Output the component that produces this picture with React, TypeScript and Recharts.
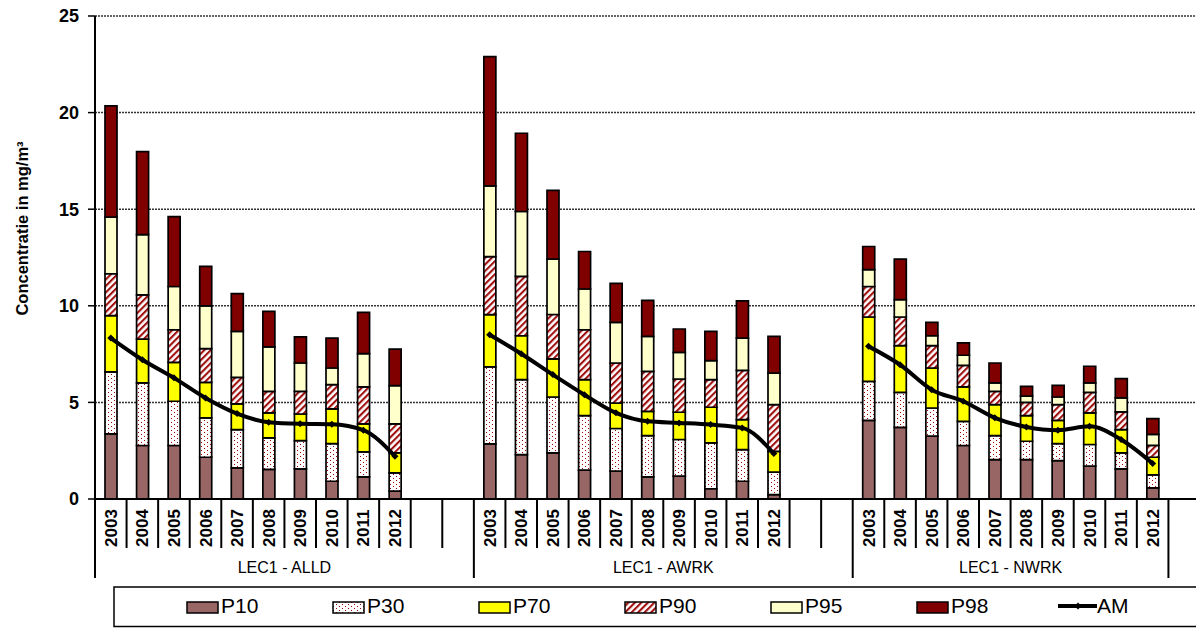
import React from 'react';
import { ComposedChart, Bar, Line, XAxis, YAxis, CartesianGrid } from 'recharts';

const FONT = '"Liberation Sans", Arial, sans-serif';

const years = ['2003', '2004', '2005', '2006', '2007', '2008', '2009', '2010', '2011', '2012'];
const groups = ['LEC1 - ALLD', 'LEC1 - AWRK', 'LEC1 - NWRK'];

// percentiles per year, groups in order ALLD, AWRK, NWRK
const p10 = [
  3.37, 2.77, 2.77, 2.16, 1.61, 1.53, 1.56, 0.92, 1.15, 0.41,
  2.85, 2.3, 2.39, 1.49, 1.44, 1.15, 1.18, 0.53, 0.92, 0.23,
  4.07, 3.71, 3.25, 2.77, 2.04, 2.04, 1.99, 1.7, 1.56, 0.58,
];
const p30 = [
  6.58, 6.01, 5.06, 4.2, 3.59, 3.16, 3.02, 2.87, 2.44, 1.35,
  6.84, 6.18, 5.28, 4.32, 3.65, 3.28, 3.08, 2.9, 2.56, 1.39,
  6.09, 5.52, 4.71, 4.02, 3.28, 2.99, 2.87, 2.82, 2.39, 1.25,
];
const p70 = [
  9.49, 8.28, 7.07, 6.04, 4.92, 4.46, 4.4, 4.66, 3.89, 2.39,
  9.54, 8.45, 7.25, 6.18, 4.97, 4.54, 4.49, 4.75, 4.11, 2.47,
  9.42, 7.94, 6.78, 5.8, 4.89, 4.32, 4.07, 4.46, 3.59, 2.16,
];
const p90 = [
  11.66, 10.57, 8.76, 7.78, 6.3, 5.57, 5.57, 5.92, 5.8, 3.89,
  12.55, 11.52, 9.55, 8.76, 7.04, 6.61, 6.21, 6.18, 6.66, 4.89,
  11.0, 9.42, 7.94, 6.92, 5.57, 5.0, 4.89, 5.52, 4.51, 2.78,
];
const p95 = [
  14.59, 13.68, 11.0, 10.0, 8.68, 7.87, 7.04, 6.78, 7.52, 5.87,
  16.21, 14.88, 12.42, 10.87, 9.14, 8.42, 7.59, 7.16, 8.33, 6.52,
  11.87, 10.32, 8.45, 7.44, 6.01, 5.32, 5.28, 6.01, 5.23, 3.34,
];
const p98 = [
  20.35, 17.98, 14.62, 12.04, 10.63, 9.71, 8.39, 8.33, 9.66, 7.76,
  22.9, 18.93, 15.97, 12.81, 11.16, 10.28, 8.8, 8.68, 10.26, 8.42,
  13.07, 12.42, 9.14, 8.08, 7.04, 5.83, 5.88, 6.87, 6.23, 4.16,
];
const am = [
  8.33, 7.21, 6.27, 5.23, 4.42, 3.97, 3.89, 3.87, 3.56, 2.21,
  8.5, 7.52, 6.44, 5.4, 4.46, 4.02, 3.94, 3.85, 3.68, 2.35,
  7.9, 6.95, 5.66, 5.06, 4.2, 3.73, 3.56, 3.76, 3.08, 1.84,
];

const yTicks = [0, 5, 10, 15, 20, 25];

const seriesNames = ['P10', 'P30', 'P70', 'P90', 'P95', 'P98'];
const seriesKeys = ['d10', 'd30', 'd70', 'd90', 'd95', 'd98'];
const seriesFills = ['#996666', 'url(#dots)', '#FFFF00', 'url(#hatch)', '#FFFFCC', '#800000'];

type Row = {
  key: string;
  label: string;
  long?: boolean;
  groupLabel?: string;
  [k: string]: any;
};

const rows: Row[] = [];
groups.forEach((g, gi) => {
  const start = rows.length;
  years.forEach((y, yi) => {
    const i = gi * years.length + yi;
    rows.push({
      key: `${gi}-${y}`,
      label: y,
      d10: p10[i],
      d30: p30[i] - p10[i],
      d70: p70[i] - p30[i],
      d90: p90[i] - p70[i],
      d95: p95[i] - p90[i],
      d98: p98[i] - p95[i],
      am: am[i],
    });
  });
  const pad = gi < groups.length - 1 ? 2 : 0;
  for (let k = 0; k < pad; k++) rows.push({ key: `${gi}-pad${k}`, label: '' });
  const span = rows.length - start;
  rows[start].long = true;
  rows[start + span / 2].groupLabel = g;
});
rows.push({ key: 'end', label: '', long: true });

const CategoryTick = (props: any) => {
  const { x, y, payload, width, visibleTicksCount } = props;
  const index = payload?.index ?? props.index;
  const row = rows[index];
  if (!row) return null;
  const half = payload?.offset ? payload.offset : width / visibleTicksCount / 2;
  const left = x - half;
  return (
    <g>
      <line x1={left} y1={y} x2={left} y2={y + (row.long ? 79 : 49)} stroke="#000" strokeWidth={2} />
      {row.label ? (
        <text
          transform={`translate(${x},${y + 29}) rotate(-90)`}
          textAnchor="middle"
          dy="0.36em"
          fontSize={17}
          fontWeight="bold"
          fontFamily={FONT}
          fill="#000"
        >
          {row.label}
        </text>
      ) : null}
      {row.groupLabel ? (
        <text x={left} y={y + 68} textAnchor="middle" dy="0.36em" fontSize={16} fontFamily={FONT} fill="#000">
          {row.groupLabel}
        </text>
      ) : null}
    </g>
  );
};

const Diamond = (props: any) => {
  const { cx, cy, index } = props;
  if (cx == null || cy == null || props.value == null) return <g key={`d${index}`} />;
  const s = 3.5;
  return (
    <path
      key={`d${index}`}
      d={`M${cx},${cy - s}L${cx + s},${cy}L${cx},${cy + s}L${cx - s},${cy}Z`}
      fill="#000"
    />
  );
};

const YTitle = (props: any) => {
  const vb = props.viewBox || { x: 0, y: 16, width: 95, height: 483 };
  return (
    <text
      transform={`translate(${vb.x + 22},${vb.y + vb.height / 2 - 29}) rotate(-90)`}
      textAnchor="middle"
      dy="0.36em"
      fontSize={16.5}
      fontWeight="bold"
      fontFamily={FONT}
      fill="#000"
    >
      Concentratie in mg/m³
    </text>
  );
};

const Patterns = ({ prefix }: { prefix: string }) => (
  <defs>
    <pattern id={`${prefix}dots`} patternUnits="userSpaceOnUse" width={6} height={4}>
      <rect width={6} height={4} fill="#fff" />
      <rect x={0} y={0} width={1} height={1} fill="#a00000" />
      <rect x={3} y={2} width={1} height={1} fill="#a00000" />
    </pattern>
    <pattern
      id={`${prefix}hatch`}
      patternUnits="userSpaceOnUse"
      width={4.6}
      height={4.6}
      patternTransform="rotate(45)"
    >
      <rect width={4.6} height={4.6} fill="#fff" />
      <rect x={0} y={0} width={2.1} height={4.6} fill="#a01010" />
    </pattern>
  </defs>
);

const legendFills = ['#996666', 'url(#lgdots)', '#FFFF00', 'url(#lghatch)', '#FFFFCC', '#800000'];

const LegendBox = () => (
  <svg width={1196} height={628} style={{ position: 'absolute', left: 0, top: 0, pointerEvents: 'none' }}>
    <Patterns prefix="lg" />
    <rect x={114} y={587} width={1100} height={39.5} fill="none" stroke="#000" strokeWidth={1.5} />
    {seriesNames.map((n, i) => {
      const sx = 187 + i * 146;
      return (
        <g key={n}>
          <rect x={sx} y={602} width={31} height={11} fill={legendFills[i]} stroke="#000" strokeWidth={1.5} />
          <text x={sx + 34} y={613} fontSize={21} fontFamily={FONT} fill="#000">
            {n}
          </text>
        </g>
      );
    })}
    <line x1={1058} y1={606} x2={1097} y2={606} stroke="#000" strokeWidth={4} />
    <path d="M1078,602.5L1081.5,606L1078,609.5L1074.5,606Z" fill="#000" />
    <text x={1097} y={613} fontSize={21} fontFamily={FONT} fill="#000">
      AM
    </text>
  </svg>
);

const App = () => {
  return (
    <div
      style={{
        position: 'absolute',
        left: 0,
        top: 0,
        width: 1196,
        height: 628,
        overflow: 'hidden',
        background: '#fff',
      }}
    >
      <ComposedChart
        width={1204}
        height={628}
        data={rows}
        margin={{ top: 16, right: 4, bottom: 49, left: 0 }}
        barSize={12}
      >
        <Patterns prefix="" />
        <CartesianGrid vertical={false} stroke="#333" strokeDasharray="2 1" strokeWidth={1.5} />
        <XAxis
          dataKey="key"
          interval={0}
          height={80}
          tickSize={0}
          tickMargin={0}
          tickLine={false}
          axisLine={{ stroke: '#000', strokeWidth: 2 }}
          tick={<CategoryTick />}
        />
        <YAxis
          width={95}
          domain={[0, 25]}
          ticks={yTicks}
          interval={0}
          tickSize={7}
          tickMargin={9}
          axisLine={{ stroke: '#000', strokeWidth: 2 }}
          tickLine={{ stroke: '#000', strokeWidth: 1.5 }}
          tick={{ fontSize: 18, fontWeight: 'bold', fill: '#000', fontFamily: FONT }}
          label={<YTitle />}
        />
        {seriesKeys.map((k, i) => (
          <Bar
            key={k}
            dataKey={k}
            name={seriesNames[i]}
            stackId="p"
            fill={seriesFills[i]}
            stroke="#000"
            strokeWidth={1.7}
            isAnimationActive={false}
          />
        ))}
        <Line
          dataKey="am"
          name="AM"
          type="monotone"
          stroke="#000"
          strokeWidth={4}
          dot={<Diamond />}
          activeDot={false}
          isAnimationActive={false}
        />
      </ComposedChart>
      <LegendBox />
    </div>
  );
};

export default App;
